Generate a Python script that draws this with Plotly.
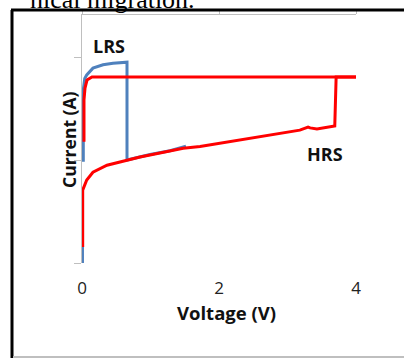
import plotly.graph_objects as go

W, H = 404, 358

# Blue sweep (LRS reset then HRS)
blue_v_low = [0.007, 0.007]
blue_i_low = [1.0e-6, 4.1e-6]
blue_v = [0.019, 0.019, 0.04, 0.069, 0.16, 0.307, 0.453, 0.628, 0.657, 0.657, 0.993, 1.285, 1.518]
blue_i = [9.6e-6, 4.8e-5, 6.2e-5, 6.7e-5, 7.8e-5, 8.4e-5, 8.7e-5, 8.9e-5, 8.9e-5, 1.0e-5, 1.13e-5, 1.23e-5, 1.36e-5]

# Red sweep (HRS set then back at compliance)
red_set_v = [0.01, 0.01, 0.069, 0.16, 0.365, 0.657, 0.847, 0.993, 1.478, 1.723, 2.015, 2.20, 2.70,
             3.18, 3.30, 3.33, 3.43, 3.52, 3.55, 3.66, 3.69, 3.71, 4.0]
red_set_i = [1.43e-6, 5.1e-6, 6.4e-6, 7.6e-6, 8.9e-6, 1.0e-5, 1.07e-5, 1.12e-5, 1.30e-5, 1.35e-5,
             1.45e-5, 1.51e-5, 1.71e-5, 1.95e-5, 2.09e-5, 2.05e-5, 2.0e-5, 2.05e-5, 2.09e-5,
             2.14e-5, 2.14e-5, 6.4e-5, 6.4e-5]
red_back_v = [4.0, 0.146, 0.073, 0.044, 0.029, 0.029]
red_back_i = [6.4e-5, 6.4e-5, 5.98e-5, 5.0e-5, 3.83e-5, 1.5e-5]

x_ticks = [0, 2, 4]
y_ticks = [1e-6, 1e-5, 1e-4]

BLUE = "#4F81BD"
RED = "#FF0000"
GRAY = "#BFBFBF"

def px(x):
    return x / W

def py(y):
    return 1 - y / H

fig = go.Figure()
fig.add_trace(go.Scatter(x=blue_v_low, y=blue_i_low, mode="lines",
                         line=dict(color=BLUE, width=3), showlegend=False))
fig.add_trace(go.Scatter(x=blue_v, y=blue_i, mode="lines",
                         line=dict(color=BLUE, width=3), showlegend=False))
fig.add_trace(go.Scatter(x=red_set_v, y=red_set_i, mode="lines",
                         line=dict(color=RED, width=3), showlegend=False))
fig.add_trace(go.Scatter(x=red_back_v, y=red_back_i, mode="lines",
                         line=dict(color=RED, width=3), showlegend=False))
# helper trace so that the top axis is drawn
fig.add_trace(go.Scatter(x=[None], y=[None], xaxis="x2", yaxis="y",
                         mode="lines", showlegend=False, hoverinfo="skip"))

font = "Open Sans"
fig.update_layout(
    width=W, height=H,
    margin=dict(l=0, r=0, t=0, b=0),
    paper_bgcolor="white", plot_bgcolor="white",
    showlegend=False,
    xaxis=dict(domain=[px(82), px(356)], range=[0, 4], tickvals=x_ticks,
               showline=False, zeroline=False, showgrid=False,
               ticks="outside", ticklen=10, tickcolor="rgba(0,0,0,0)",
               tickfont=dict(family=font, size=17, color="#222"),
               anchor="y", automargin=False),
    xaxis2=dict(overlaying="x", side="top", anchor="y", range=[0, 4],
                tickvals=x_ticks, showticklabels=False, showline=True,
                linecolor=GRAY, linewidth=1, ticks="outside", ticklen=4,
                tickcolor=GRAY, showgrid=False, zeroline=False, automargin=False),
    yaxis=dict(domain=[py(263), py(15)], type="log", range=[-6, -3.592],
               tickvals=y_ticks, showticklabels=False, showline=True,
               linecolor=GRAY, linewidth=1, ticks="outside", ticklen=7,
               tickcolor=GRAY, showgrid=False, zeroline=False, automargin=False),
    shapes=[
        dict(type="line", xref="paper", yref="paper", x0=px(11), x1=1,
             y0=py(10), y1=py(10), line=dict(color="black", width=3)),
        dict(type="line", xref="paper", yref="paper", x0=px(12), x1=px(12),
             y0=py(10), y1=0, line=dict(color="black", width=3)),
        dict(type="line", xref="paper", yref="paper", x0=px(13), x1=1,
             y0=py(357), y1=py(357), line=dict(color=GRAY, width=2)),
    ],
    annotations=[
        dict(text="<b>Voltage (V)</b>", xref="paper", yref="paper", x=px(226), y=py(312),
             xanchor="center", yanchor="middle", showarrow=False,
             font=dict(family=font, size=18.5, color="#111")),
        dict(text="<b>Current (A)</b>", xref="paper", yref="paper", x=px(69), y=py(140),
             xanchor="center", yanchor="middle", showarrow=False, textangle=-90,
             font=dict(family=font, size=17.5, color="#111")),
        dict(text="<b>LRS</b>", xref="paper", yref="paper", x=px(108.5), y=py(46),
             xanchor="center", yanchor="middle", showarrow=False,
             font=dict(family=font, size=18, color="#111")),
        dict(text="<b>HRS</b>", xref="paper", yref="paper", x=px(324.5), y=py(153.5),
             xanchor="center", yanchor="middle", showarrow=False,
             font=dict(family=font, size=18, color="#111")),
        dict(text="nical migration.", xref="paper", yref="paper", x=px(197), y=py(16),
             xanchor="right", yanchor="bottom", showarrow=False,
             font=dict(family="Liberation Serif", size=26, color="black")),
    ],
)

fig.write_html("out.html")
